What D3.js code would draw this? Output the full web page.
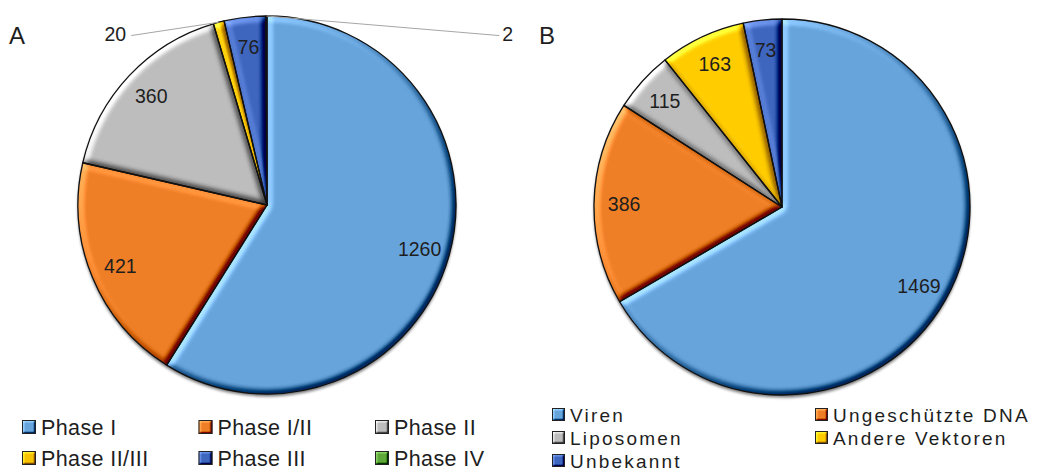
<!DOCTYPE html>
<html>
<head>
<meta charset="utf-8">
<script src="https://cdn.jsdelivr.net/npm/d3@7"></script>
<style>
  body { margin: 0; background: #fff; }
  svg { display: block; }
  text { font-family: "Liberation Sans", Arial, sans-serif; fill: #1e1e1e; }
</style>
</head>
<body>
<svg id="chart" width="1038" height="471"></svg>
<script>
// Panel A: studies by clinical phase
const phaseLabels = ["Phase I", "Phase I/II", "Phase II", "Phase II/III", "Phase III", "Phase IV"];
const phaseCounts = [1260, 421, 360, 20, 76, 2];
const phaseColors = ["#68a4dc", "#ef7f26", "#bdbdbd", "#f7c200", "#3f66bf", "#5ea83a"];

// Panel B: studies by vector type
const vectorLabels = ["Viren", "Ungeschützte DNA", "Liposomen", "Andere Vektoren", "Unbekannt"];
const vectorCounts = [1469, 386, 115, 163, 73];
const vectorColors = ["#68a4dc", "#ef7f26", "#bdbdbd", "#ffcc00", "#3f66bf"];

const svg = d3.select("#chart");
const defs = svg.append("defs");

// Soft bevel: lighting on the blurred alpha, lit from the upper left
function addBevel(id, blur, surface, amount) {
  const f = defs.append("filter").attr("id", id)
    .attr("x", "-20%").attr("y", "-20%").attr("width", "140%").attr("height", "140%")
    .attr("color-interpolation-filters", "sRGB");
  f.append("feGaussianBlur").attr("in", "SourceAlpha").attr("stdDeviation", blur).attr("result", "b");
  const dl = f.append("feDiffuseLighting").attr("in", "b").attr("surfaceScale", surface)
    .attr("diffuseConstant", 1).attr("lighting-color", "#ffffff").attr("result", "d");
  const elev = 40;
  dl.append("feDistantLight").attr("azimuth", 225).attr("elevation", elev);
  const flat = Math.sin(elev * Math.PI / 180);
  f.append("feComposite").attr("in", "SourceGraphic").attr("in2", "d").attr("operator", "arithmetic")
    .attr("k1", 0).attr("k2", 1).attr("k3", amount).attr("k4", -amount * flat).attr("result", "lit");
  f.append("feComposite").attr("in", "lit").attr("in2", "SourceAlpha").attr("operator", "in");
}
addBevel("bevel", 3, 5, 0.75);
addBevel("bevelSmall", 1.3, 3, 0.8);

const shadow = defs.append("filter").attr("id", "pieShadow")
  .attr("x", "-10%").attr("y", "-10%").attr("width", "120%").attr("height", "120%");
shadow.append("feGaussianBlur").attr("stdDeviation", 1.8);

function drawPie(opts) {
  const { cx, cy, r, labels, counts, colors, letter, letterX, callouts } = opts;
  const g = svg.append("g").attr("transform", `translate(${cx},${cy})`);

  const pie = d3.pie().sort(null).value(d => d.count);
  const data = labels.map((l, i) => ({ label: l, count: counts[i], color: colors[i] }));
  const arcs = pie(data);
  const arc = d3.arc().innerRadius(0).outerRadius(r);
  const labelArc = d3.arc().innerRadius(r * 0.84).outerRadius(r * 0.84);
  const rimArc = d3.arc().innerRadius(r).outerRadius(r);

  g.append("circle").attr("cx", 0).attr("cy", 2.5).attr("r", r)
    .attr("fill", "#000").attr("opacity", 0.55).attr("filter", "url(#pieShadow)");

  g.selectAll("path.slice").data(arcs).join("path")
    .attr("class", "slice")
    .attr("d", arc)
    .attr("fill", d => d.data.color)
    .attr("filter", "url(#bevel)");

  g.selectAll("path.edge").data(arcs).join("path")
    .attr("class", "edge")
    .attr("d", arc)
    .attr("fill", "none")
    .attr("stroke", "#111")
    .attr("stroke-width", 1.3)
    .attr("stroke-linejoin", "round");

  const minAngle = 5 * Math.PI / 180;
  g.selectAll("text.val").data(arcs.filter(d => d.endAngle - d.startAngle >= minAngle)).join("text")
    .attr("class", "val")
    .attr("transform", d => `translate(${labelArc.centroid(d)})`)
    .attr("text-anchor", "middle")
    .attr("dy", "0.36em")
    .attr("font-size", 19.5)
    .text(d => d.data.count);

  // values of very thin slices sit outside with a leader line
  arcs.filter(d => d.endAngle - d.startAngle < minAngle).forEach(d => {
    const c = callouts[d.data.label];
    const [ex, ey] = rimArc.centroid(d);
    const tx = c.x * r, ty = c.y * r;
    const lineEnd = c.anchor === "end" ? tx + 5 : tx - 3;
    g.append("line")
      .attr("x1", ex).attr("y1", ey).attr("x2", lineEnd).attr("y2", ty - 5)
      .attr("stroke", "#a6a6a6").attr("stroke-width", 1);
    g.append("text")
      .attr("x", tx).attr("y", ty)
      .attr("text-anchor", c.anchor)
      .attr("font-size", 19.5)
      .text(d.data.count);
  });

  svg.append("text").attr("x", letterX).attr("y", 44)
    .attr("font-size", 24).text(letter);
}

drawPie({
  cx: 267, cy: 205, r: 189,
  labels: phaseLabels, counts: phaseCounts, colors: phaseColors,
  letter: "A", letterX: 9,
  callouts: {
    "Phase II/III": { x: -0.745, y: -0.87, anchor: "end" },
    "Phase IV": { x: 1.245, y: -0.87, anchor: "start" }
  }
});

drawPie({
  cx: 782, cy: 207, r: 188,
  labels: vectorLabels, counts: vectorCounts, colors: vectorColors,
  letter: "B", letterX: 539,
  callouts: {}
});

// Legends
function drawLegend(items, opts) {
  const { x0, y0, colW, rowH, cols, fontSize, spacing, box } = opts;
  const lg = svg.append("g");
  const it = lg.selectAll("g").data(items).join("g")
    .attr("transform", (d, i) => `translate(${x0 + (i % cols) * colW},${y0 + Math.floor(i / cols) * rowH})`);
  it.append("rect").attr("x", 0).attr("y", -box).attr("width", box).attr("height", box)
    .attr("fill", d => d.color).attr("filter", "url(#bevelSmall)");
  it.append("rect").attr("x", 0.5).attr("y", -box + 0.5).attr("width", box - 1).attr("height", box - 1)
    .attr("fill", "none").attr("stroke", "#222").attr("stroke-width", 1);
  it.append("text").attr("x", box + 5).attr("y", 1)
    .attr("font-size", fontSize).attr("letter-spacing", spacing)
    .text(d => d.label);
}

drawLegend(phaseLabels.map((l, i) => ({ label: l, color: phaseColors[i] })), {
  x0: 22, y0: 434, colW: 176.5, rowH: 31, cols: 3, fontSize: 21.5, spacing: 0.4, box: 14
});

drawLegend(vectorLabels.map((l, i) => ({ label: l, color: vectorColors[i] })), {
  x0: 552, y0: 421, colW: 263, rowH: 23, cols: 2, fontSize: 19, spacing: 2.2, box: 13
});
</script>
</body>
</html>
